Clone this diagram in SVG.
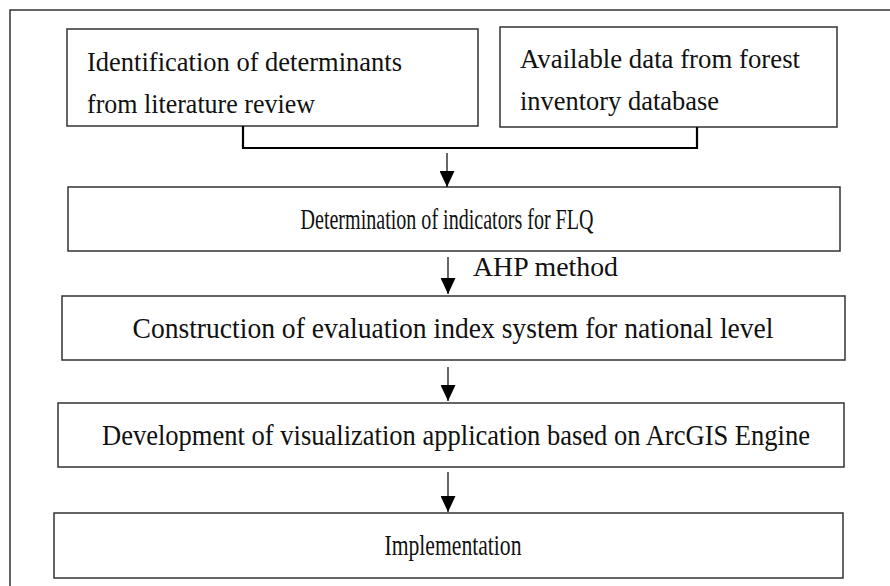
<svg xmlns="http://www.w3.org/2000/svg" width="890" height="586" viewBox="0 0 890 586">
<defs>
<style>
.box{fill:#fff;stroke:#333;stroke-width:1.5}
.t{font-family:"Liberation Serif","Times New Roman",serif;font-size:26.5px;fill:#111}
.k{font-size:29px}
.c{text-anchor:middle}
.ln{stroke:#000;stroke-width:1.2;fill:none}
.bus{stroke:#000;stroke-width:2.2;fill:none}
</style>
<marker id="ah" markerWidth="16" markerHeight="15" refX="16" refY="7.5" orient="auto" markerUnits="userSpaceOnUse">
<path d="M0,0 L16,7.5 L0,15 Z" fill="#000"/>
</marker>
</defs>
<rect width="890" height="586" fill="#fff"/>
<path d="M10,586 V10 H890" stroke="#333" stroke-width="1.5" fill="none"/>
<g id="n1">
<rect class="box" x="67" y="29" width="411" height="97"/>
<text class="t" x="87" y="71" textLength="315" lengthAdjust="spacingAndGlyphs">Identification of determinants</text>
<text class="t" x="87" y="113" textLength="228" lengthAdjust="spacingAndGlyphs">from literature review</text>
</g>
<g id="n2">
<rect class="box" x="500" y="27" width="337" height="100"/>
<text class="t" x="520" y="68" textLength="280" lengthAdjust="spacingAndGlyphs">Available data from forest</text>
<text class="t" x="520" y="110" textLength="199" lengthAdjust="spacingAndGlyphs">inventory database</text>
</g>
<g id="n3">
<rect class="box" x="68" y="187" width="772" height="64"/>
<text class="t k c" x="447" y="229" textLength="293" lengthAdjust="spacingAndGlyphs">Determination of indicators for FLQ</text>
</g>
<g id="n4">
<rect class="box" x="62" y="296" width="783" height="64"/>
<text class="t k c" x="453" y="338" textLength="641" lengthAdjust="spacingAndGlyphs">Construction of evaluation index system for national level</text>
</g>
<g id="n5">
<rect class="box" x="58" y="403" width="786" height="64"/>
<text class="t k c" x="456" y="445" textLength="708" lengthAdjust="spacingAndGlyphs">Development of visualization application based on ArcGIS Engine</text>
</g>
<g id="n6">
<rect class="box" x="54" y="513" width="789" height="65"/>
<text class="t k c" x="453" y="555" textLength="137" lengthAdjust="spacingAndGlyphs">Implementation</text>
</g>
<g id="connectors">
<path class="bus" d="M243,126 V148 H697 V127"/>
<line class="ln" x1="447" y1="153" x2="447" y2="187" marker-end="url(#ah)"/>
<line class="ln" x1="448" y1="257" x2="448" y2="294" marker-end="url(#ah)"/>
<line class="ln" x1="448" y1="367" x2="448" y2="401" marker-end="url(#ah)"/>
<line class="ln" x1="448" y1="472" x2="448" y2="512" marker-end="url(#ah)"/>
<text class="t" x="473" y="276" textLength="145" lengthAdjust="spacingAndGlyphs">AHP method</text>
</g>
</svg>
